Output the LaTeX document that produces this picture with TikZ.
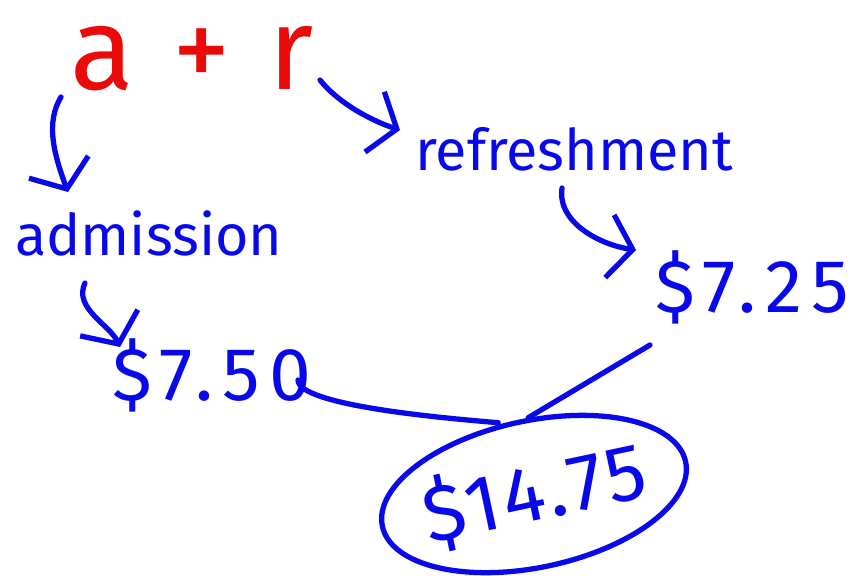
\documentclass[tikz,border=0pt]{standalone}
\usepackage{fontspec}
\setmainfont{Fira Sans}
\usetikzlibrary{arrows.meta}
\usetikzlibrary{shapes.geometric}
\definecolor{pen}{RGB}{8,8,235}
\definecolor{redpen}{RGB}{235,10,10}

\begin{document}
\begin{tikzpicture}[x=0.03cm, y=-0.03cm,
  >={Straight Barb[length=0.7cm, width=1.9cm]},
  ink/.style={pen, line width=4.5pt, line cap=round, line join=round},
  word/.style={text=pen, inner sep=0pt, font=\fontsize{49}{52}\selectfont},
  cash/.style={word, font=\fontsize{64}{70}\selectfont\addfontfeature{LetterSpace=12}}]

  \useasboundingbox[fill=white] (0,0) rectangle (861,575);

  % the sum and its two parts
  \node[word, text=redpen, anchor=base west, font=\fontsize{100}{106}\selectfont\addfontfeature{LetterSpace=6}] (ar) at (70,89) {a + r};
  \node[word, anchor=base west] (adm) at (15,255) {admission};
  \node[word, anchor=base west] (ref) at (415,170) {refreshment};

  \node[cash, anchor=base west] (p2) at (655,312) {\$7.25};
  \node[cash, anchor=base west] (p1) at (112,400) {\$7.50};

  % the total, ringed
  \node[word, font=\fontsize{68}{72}\selectfont\addfontfeature{LetterSpace=4}, draw=pen, line width=4.5pt, ellipse, rotate=12,
        inner xsep=-0.3cm, minimum width=9.3cm, minimum height=4.4cm] (tot) at (534,494) {\$14.75};

  % arrows
  \draw[ink, ->] ([shift={(-9,8)}]ar.base west)
    .. controls +(-15,25) and +(-15,-40) .. ([shift={(53,-63)}]adm.base west);
  \draw[ink, ->] ([shift={(250,-9)}]ar.base west)
    .. controls +(20,25) and +(-25,-8) .. ([shift={(-15,-40)}]ref.base west);
  \draw[ink, ->] ([shift={(147,18)}]ref.base west)
    .. controls +(-5,35) and +(-35,-5) .. ([shift={(-19,-62)}]p2.base west);
  \draw[ink, ->] ([shift={(70,28)}]adm.base west)
    .. controls +(-12,25) and +(-10,-22) .. ([shift={(8,-53)}]p1.base west);

  % lines into the total
  \draw[ink] ([shift={(186,-20)}]p1.base west)
    .. controls +(0,25) and +(-60,-5) .. ([shift={(-20,3)}]tot.north);
  \draw[ink] ([shift={(-5,33)}]p2.base west) -- ([shift={(10,-2)}]tot.north);
\end{tikzpicture}
\end{document}
